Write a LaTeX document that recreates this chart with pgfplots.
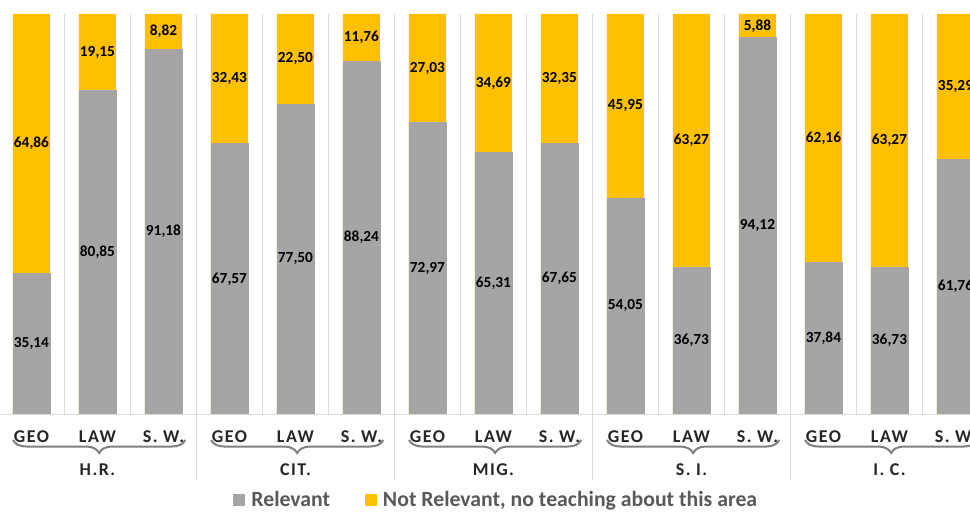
\documentclass[border=0pt]{standalone}
\usepackage{fontspec}
\setmainfont{Carlito}
\newfontfamily\lblfont[LetterSpace=8]{Carlito}
\usepackage{pgfplots}
\usepackage{pgfplotstable}
\pgfplotsset{compat=1.18}
\usetikzlibrary{decorations.pathreplacing}
\definecolor{relgray}{HTML}{A5A5A5}
\definecolor{notyel}{HTML}{FFC000}
\definecolor{gridc}{HTML}{D9D9D9}
\definecolor{legtxt}{HTML}{595959}
\definecolor{bracec}{HTML}{7F7F7F}
\definecolor{lbltxt}{HTML}{262626}

% relh = height of the grey part in the 100% stack (last bar: 61.76 / 97.05)
\pgfplotstableread{
x  rel    notrel full relh   relmid  notmid
0  35.14  64.86  100  35.14  17.57   67.57
1  80.85  19.15  100  80.85  40.425  90.425
2  91.18  8.82   100  91.18  45.59   95.59
3  67.57  32.43  100  67.57  33.785  83.785
4  77.50  22.50  100  77.50  38.75   88.75
5  88.24  11.76  100  88.24  44.12   94.12
6  72.97  27.03  100  72.97  36.485  86.485
7  65.31  34.69  100  65.31  32.655  82.655
8  67.65  32.35  100  67.65  33.825  83.825
9  54.05  45.95  100  54.05  27.025  77.025
10 36.73  63.27  100  36.73  18.365  68.365
11 94.12  5.88   100  94.12  47.06   97.06
12 37.84  62.16  100  37.84  18.92   68.92
13 36.73  63.27  100  36.73  18.365  68.365
14 61.76  35.29  100  63.64  31.82   81.82
}\datatable

\newcommand\catfont{\lblfont\bfseries\fontsize{13.5pt}{14pt}\selectfont}
\newcommand\valfont{\bfseries\fontsize{11.5pt}{12pt}\selectfont}
\newcommand\vallabel{\pgfmathprintnumber[assume math mode=true,use comma,fixed,fixed zerofill,precision=2]{\pgfplotspointmeta}}

\begin{document}
\begin{tikzpicture}
\begin{axis}[
  at={(0,0)}, anchor=south west,
  scale only axis, width=742.5pt, height=300pt,
  xmin=-0.5, xmax=14.5, ymin=0, ymax=100,
  clip=false,
  axis line style={draw=none},
  ytick=\empty,
  xtick={0,...,14},
  xticklabels={GEO,LAW,S. W.,GEO,LAW,S. W.,GEO,LAW,S. W.,GEO,LAW,S. W.,GEO,LAW,S. W.},
  minor xtick={0.5,1.5,...,13.5},
  xminorgrids=true,
  minor x grid style={gridc, line width=0.75pt},
  major tick length=0pt, minor tick length=0pt,
  xticklabel style={font=\catfont, text=lbltxt, anchor=center, yshift=-16.9pt},
  legend columns=2,
  legend style={at={(axis description cs:0.503,-0.215)}, anchor=center,
    draw=none, fill=none, font=\bfseries\fontsize{16.3pt}{17pt}\selectfont,
    text=legtxt,
    /tikz/every odd column/.append style={column sep=3pt},
    /tikz/every even column/.append style={column sep=24pt}},
]
\addplot[ybar, bar width=27.75pt, bar shift=0pt, fill=notyel, draw=none, forget plot]
  table[x=x, y=full] {\datatable};
\addplot[ybar, bar width=27.75pt, bar shift=0pt, fill=relgray, draw=relgray, line width=0.4pt, forget plot]
  table[x=x, y=relh] {\datatable};

\addplot[draw=none, mark=none, forget plot, point meta=explicit,
  nodes near coords={\vallabel}, nodes near coords align=center,
  every node near coord/.append style={font=\valfont, text=black, anchor=center}]
  table[x=x, y=relmid, meta=rel] {\datatable};
\addplot[draw=none, mark=none, forget plot, point meta=explicit,
  nodes near coords={\vallabel}, nodes near coords align=center,
  every node near coord/.append style={font=\valfont, text=black, anchor=center}]
  table[x=x, y=notmid, meta=notrel] {\datatable};

\addlegendimage{legend image code/.code={\fill[relgray] (-4pt,-4.1pt) rectangle (4.25pt,4.15pt);}}
\addlegendentry{Relevant}
\addlegendimage{legend image code/.code={\fill[notyel] (-4pt,-4.1pt) rectangle (4.25pt,4.15pt);}}
\addlegendentry{Not Relevant, no teaching about this area}

\draw[gridc, line width=0.75pt] (axis cs:-0.5,0) -- (axis cs:14.5,0);
\pgfplotsinvokeforeach{2.5,5.5,8.5,11.5}{
  \draw[gridc, line width=0.75pt] (axis cs:#1,0) -- (axis cs:#1,-16.5);
}
\pgfplotsinvokeforeach{0,3,6,9,12}{
  \draw[decorate, decoration={brace, mirror, amplitude=9.75pt}, bracec, line width=1.5pt]
    (axis cs:#1-0.28,-6.5) -- (axis cs:#1+2.33,-6.5);
}

\node[font=\catfont, text=lbltxt] at (axis cs:1,-13.9) {H.R.};
\node[font=\catfont, text=lbltxt] at (axis cs:4,-13.9) {CIT.};
\node[font=\catfont, text=lbltxt] at (axis cs:7,-13.9) {MIG.};
\node[font=\catfont, text=lbltxt] at (axis cs:10,-13.9) {S. I.};
\node[font=\catfont, text=lbltxt] at (axis cs:13,-13.9) {I. C.};

\coordinate (bbl) at (axis cs:-0.477,-24.25);
\coordinate (btr) at (axis cs:14.22,103.5);
\end{axis}
\pgfresetboundingbox
\path[use as bounding box] (bbl) rectangle (btr);
\end{tikzpicture}
\end{document}
